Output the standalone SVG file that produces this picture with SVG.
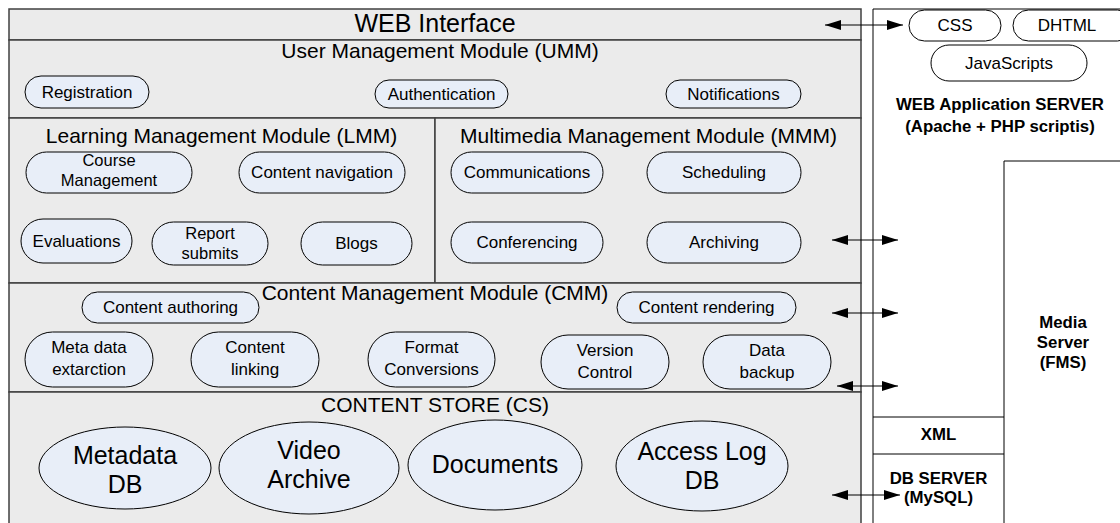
<svg xmlns="http://www.w3.org/2000/svg" width="1120" height="523" viewBox="0 0 1120 523">
<defs>
<style>
.panel{fill:#ebebeb;stroke:#404040;stroke-width:1.5}
.pill{fill:#e8eef8;stroke:#000;stroke-width:1}
.wpill{fill:#fff;stroke:#000;stroke-width:1}
.line{fill:none;stroke:#000;stroke-width:1}
.t{font-family:"Liberation Sans",Arial,sans-serif;fill:#000;text-anchor:middle}
.h1{font-size:25px}
.h2{font-size:21px}
.p{font-size:17px}
.p2{font-size:16.5px}
.e{font-size:25px}
.b{font-weight:bold;font-size:16.8px}
.conn{stroke:#000;stroke-width:1.2;fill:none;marker-start:url(#ah);marker-end:url(#ah)}
</style>
<marker id="ah" viewBox="0 0 16 10" refX="16" refY="5" markerWidth="16" markerHeight="10" markerUnits="userSpaceOnUse" orient="auto-start-reverse">
<path d="M0,0 L16,5 L0,10 Z" fill="#000"/>
</marker>
</defs>
<rect width="1120" height="523" fill="#fff"/>

<g id="web-interface">
<rect class="panel" x="9" y="9" width="852" height="31"/>
<text class="t h1" x="435" y="32">WEB Interface</text>
</g>

<g id="umm">
<rect class="panel" x="9" y="40" width="852" height="78"/>
<text class="t h2" x="440" y="58">User Management Module (UMM)</text>
<g id="registration"><rect class="pill" x="25" y="76" width="124" height="32" rx="16"/><text class="t p" x="87" y="98">Registration</text></g>
<g id="authentication"><rect class="pill" x="375" y="80" width="133" height="28" rx="14"/><text class="t p" x="441.5" y="100">Authentication</text></g>
<g id="notifications"><rect class="pill" x="666" y="80" width="135" height="28" rx="14"/><text class="t p" x="733.5" y="100">Notifications</text></g>
</g>

<g id="lmm">
<rect class="panel" x="9" y="118" width="426" height="165"/>
<text class="t h2" x="221.5" y="143">Learning Management Module (LMM)</text>
<g id="course-management"><rect class="pill" x="26" y="152" width="166" height="41" rx="20.5"/><text class="t p2" x="109" y="166">Course</text><text class="t p2" x="109" y="186">Management</text></g>
<g id="content-navigation"><rect class="pill" x="239" y="152" width="166" height="41" rx="20.5"/><text class="t p" x="322" y="178">Content navigation</text></g>
<g id="evaluations"><rect class="pill" x="21" y="219" width="111" height="44" rx="22"/><text class="t p" x="76.5" y="247">Evaluations</text></g>
<g id="report-submits"><rect class="pill" x="152" y="222" width="116" height="43" rx="21.5"/><text class="t p2" x="210" y="239">Report</text><text class="t p2" x="210" y="259">submits</text></g>
<g id="blogs"><rect class="pill" x="301" y="222" width="111" height="43" rx="21.5"/><text class="t p" x="356.5" y="249">Blogs</text></g>
</g>

<g id="mmm">
<rect class="panel" x="435" y="118" width="426" height="165"/>
<text class="t h2" x="648.5" y="143">Multimedia Management Module (MMM)</text>
<g id="communications"><rect class="pill" x="451" y="152" width="152" height="41" rx="20.5"/><text class="t p" x="527" y="178">Communications</text></g>
<g id="scheduling"><rect class="pill" x="647" y="152" width="154" height="41" rx="20.5"/><text class="t p" x="724" y="178">Scheduling</text></g>
<g id="conferencing"><rect class="pill" x="451" y="222" width="152" height="41" rx="20.5"/><text class="t p" x="527" y="248">Conferencing</text></g>
<g id="archiving"><rect class="pill" x="647" y="222" width="154" height="41" rx="20.5"/><text class="t p" x="724" y="248">Archiving</text></g>
</g>

<g id="cmm">
<rect class="panel" x="9" y="283" width="852" height="109"/>
<text class="t h2" x="435" y="300">Content Management Module (CMM)</text>
<g id="content-authoring"><rect class="pill" x="82" y="292" width="177" height="31" rx="15.5"/><text class="t p" x="170.5" y="313">Content authoring</text></g>
<g id="content-rendering"><rect class="pill" x="617" y="292" width="179" height="31" rx="15.5"/><text class="t p" x="706.5" y="313">Content rendering</text></g>
<g id="meta-data"><rect class="pill" x="25" y="332" width="128" height="55" rx="27.5"/><text class="t p" x="89" y="353">Meta data</text><text class="t p" x="89" y="375">extarction</text></g>
<g id="content-linking"><rect class="pill" x="191" y="332" width="128" height="55" rx="27.5"/><text class="t p" x="255" y="353">Content</text><text class="t p" x="255" y="375">linking</text></g>
<g id="format-conversions"><rect class="pill" x="368" y="332" width="127" height="55" rx="27.5"/><text class="t p" x="431.5" y="353">Format</text><text class="t p" x="431.5" y="375">Conversions</text></g>
<g id="version-control"><rect class="pill" x="541" y="335" width="128" height="54" rx="27"/><text class="t p" x="605" y="356">Version</text><text class="t p" x="605" y="378">Control</text></g>
<g id="data-backup"><rect class="pill" x="703" y="335" width="128" height="54" rx="27"/><text class="t p" x="767" y="356">Data</text><text class="t p" x="767" y="378">backup</text></g>
</g>

<g id="cs">
<rect class="panel" x="9" y="392" width="852" height="140"/>
<text class="t h2" x="435" y="412">CONTENT STORE (CS)</text>
<g id="metadata-db"><ellipse class="pill" cx="125" cy="468" rx="86" ry="41"/><text class="t e" x="125" y="464">Metadata</text><text class="t e" x="125" y="493">DB</text></g>
<g id="video-archive"><ellipse class="pill" cx="309" cy="468" rx="90" ry="46"/><text class="t e" x="309" y="459">Video</text><text class="t e" x="309" y="488">Archive</text></g>
<g id="documents"><ellipse class="pill" cx="495" cy="465" rx="87" ry="45"/><text class="t e" x="495" y="473">Documents</text></g>
<g id="access-log-db"><ellipse class="pill" cx="702" cy="466" rx="86" ry="45"/><text class="t e" x="702" y="460">Access Log</text><text class="t e" x="702" y="489">DB</text></g>
</g>

<g id="web-app-server">
<path class="line" d="M873,530 V9 H1125"/>
<g id="css"><rect class="wpill" x="909" y="10" width="92" height="31" rx="15.5"/><text class="t p" x="955" y="31">CSS</text></g>
<g id="dhtml"><rect class="wpill" x="1013" y="10" width="120" height="31" rx="15.5"/><text class="t p" x="1067" y="31">DHTML</text></g>
<g id="javascripts"><rect class="wpill" x="931" y="45" width="156" height="36" rx="18"/><text class="t p" x="1009" y="69">JavaScripts</text></g>
<text class="t b" x="1000" y="110">WEB Application SERVER</text>
<text class="t b" x="1000" y="132">(Apache + PHP scriptis)</text>
</g>

<g id="media-server">
<path class="line" d="M1004,530 V161 H1125"/>
<text class="t b" x="1063" y="328">Media</text>
<text class="t b" x="1063" y="348">Server</text>
<text class="t b" x="1063" y="368">(FMS)</text>
</g>

<g id="xml">
<path class="line" d="M873,417 H1004 M873,454 H1004"/>
<text class="t b" x="938.5" y="440">XML</text>
</g>

<g id="db-server">
<text class="t b" x="938.5" y="484">DB SERVER</text>
<text class="t b" x="938.5" y="503">(MySQL)</text>
</g>

<g id="connectors">
<line class="conn" x1="825" y1="25" x2="903" y2="25"/>
<line class="conn" x1="832" y1="240" x2="898" y2="240"/>
<line class="conn" x1="832" y1="313" x2="898" y2="313"/>
<line class="conn" x1="837" y1="386" x2="898" y2="386"/>
<line class="conn" x1="832" y1="495" x2="900" y2="495"/>
</g>
</svg>
